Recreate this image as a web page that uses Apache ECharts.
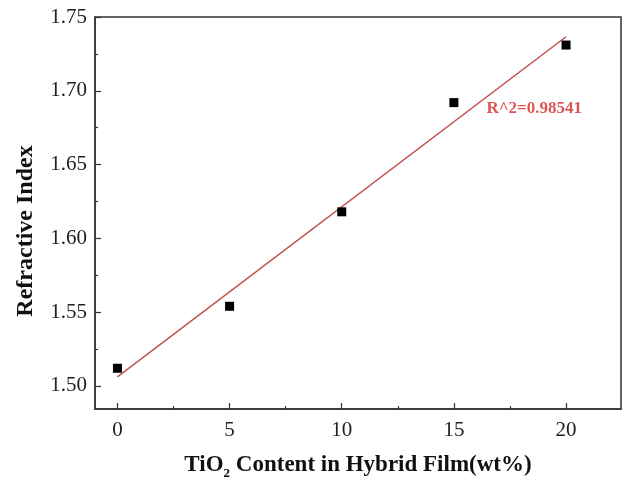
<!DOCTYPE html>
<html>
<head>
<meta charset="utf-8">
<script src="https://cdn.jsdelivr.net/npm/echarts@6/dist/echarts.min.js"></script>
<style>html,body{margin:0;padding:0;background:#fff}#c{width:623px;height:480px}</style>
</head>
<body>
<div id="c"></div>
<script>
var xValues = [0, 5, 10, 15, 20];
var yValues = [1.512, 1.554, 1.618, 1.692, 1.731];
var xTicks = [0, 5, 10, 15, 20];
var xMinorTicks = [2.5, 7.5, 12.5, 17.5];
var yTicks = [1.50, 1.55, 1.60, 1.65, 1.70, 1.75];
var yMinorTicks = [1.525, 1.575, 1.625, 1.675, 1.725];
var r2Text = 'R^2=0.98541';

// linear regression from the data
var n = xValues.length, mx = 0, my = 0;
for (var i = 0; i < n; i++) { mx += xValues[i]; my += yValues[i]; }
mx /= n; my /= n;
var sxy = 0, sxx = 0;
for (var i = 0; i < n; i++) { sxy += (xValues[i]-mx)*(yValues[i]-my); sxx += (xValues[i]-mx)*(xValues[i]-mx); }
var slope = sxy / sxx, icpt = my - slope * mx;
var fitLine = [[0, icpt], [20, icpt + slope * 20]];

var font = 'Liberation Serif';
var xMin = -1, xMax = 22.45, yMin = 1.4844, yMax = 1.75;

function tickAxis(min, max, pos, vals, len) {
  return {
    type: 'value', min: min, max: max, position: pos,
    axisLine: { show: false, onZero: false },
    axisTick: { show: true, inside: true, length: len, customValues: vals, lineStyle: { color: '#333', width: 1.2 } },
    axisLabel: { show: false }, splitLine: { show: false }
  };
}

var chart = echarts.init(document.getElementById('c'));
chart.setOption({
  animation: false,
  grid: { left: 95, right: 2, top: 17, bottom: 71, containLabel: false, outerBoundsMode: 'none',
    show: true, borderColor: '#333', borderWidth: 1.5, backgroundColor: 'transparent' },
  xAxis: [{
    type: 'value', min: xMin, max: xMax, position: 'bottom',
    axisLine: { show: true, onZero: false, lineStyle: { color: '#333', width: 1.5 } },
    axisTick: { show: false },
    axisLabel: { customValues: xTicks, margin: 11, fontFamily: font, fontSize: 21, color: '#222' },
    splitLine: { show: false },
    name: '{a|TiO}{s|2}{a| Content in Hybrid Film(wt%)}',
    nameLocation: 'middle', nameGap: 42,
    nameTextStyle: { rich: {
      a: { fontFamily: font, fontSize: 23, fontWeight: 'bold', color: '#111' },
      s: { fontFamily: font, fontSize: 13, fontWeight: 'bold', color: '#111', padding: [16, 0, 0, 0] }
    } }
  }, tickAxis(xMin, xMax, 'bottom', xTicks, 6),
     tickAxis(xMin, xMax, 'bottom', xMinorTicks, 3)],
  yAxis: [{
    type: 'value', min: yMin, max: yMax, position: 'left',
    axisLine: { show: true, onZero: false, lineStyle: { color: '#333', width: 1.5 } },
    axisTick: { show: false },
    axisLabel: { customValues: yTicks, margin: 8, fontFamily: font, fontSize: 21, color: '#222',
      formatter: function (v) { return v.toFixed(2); } },
    splitLine: { show: false },
    name: 'Refractive Index', nameLocation: 'middle', nameGap: 57,
    nameTextStyle: { fontFamily: font, fontSize: 24, fontWeight: 'bold', color: '#111', padding: [0, 36, 0, 0] }
  }, tickAxis(yMin, yMax, 'left', yTicks, 6),
     tickAxis(yMin, yMax, 'left', yMinorTicks, 3)],
  series: [{
    type: 'line', data: fitLine, symbol: 'none', xAxisIndex: 0, yAxisIndex: 0,
    lineStyle: { color: '#c0504d', width: 1.5 }, z: 2
  }, {
    type: 'scatter', data: xValues.map(function (x, i) { return [x, yValues[i]]; }),
    symbol: 'rect', symbolSize: 9, itemStyle: { color: '#000', opacity: 1 }, z: 3
  }, {
    type: 'scatter', data: [[16.45, 1.688]], symbolSize: 0, silent: true,
    label: { show: true, position: 'right', distance: 0, formatter: r2Text,
      fontFamily: font, fontSize: 17, fontWeight: 'bold', color: '#d42a2a' }
  }]
});
</script>
</body>
</html>
